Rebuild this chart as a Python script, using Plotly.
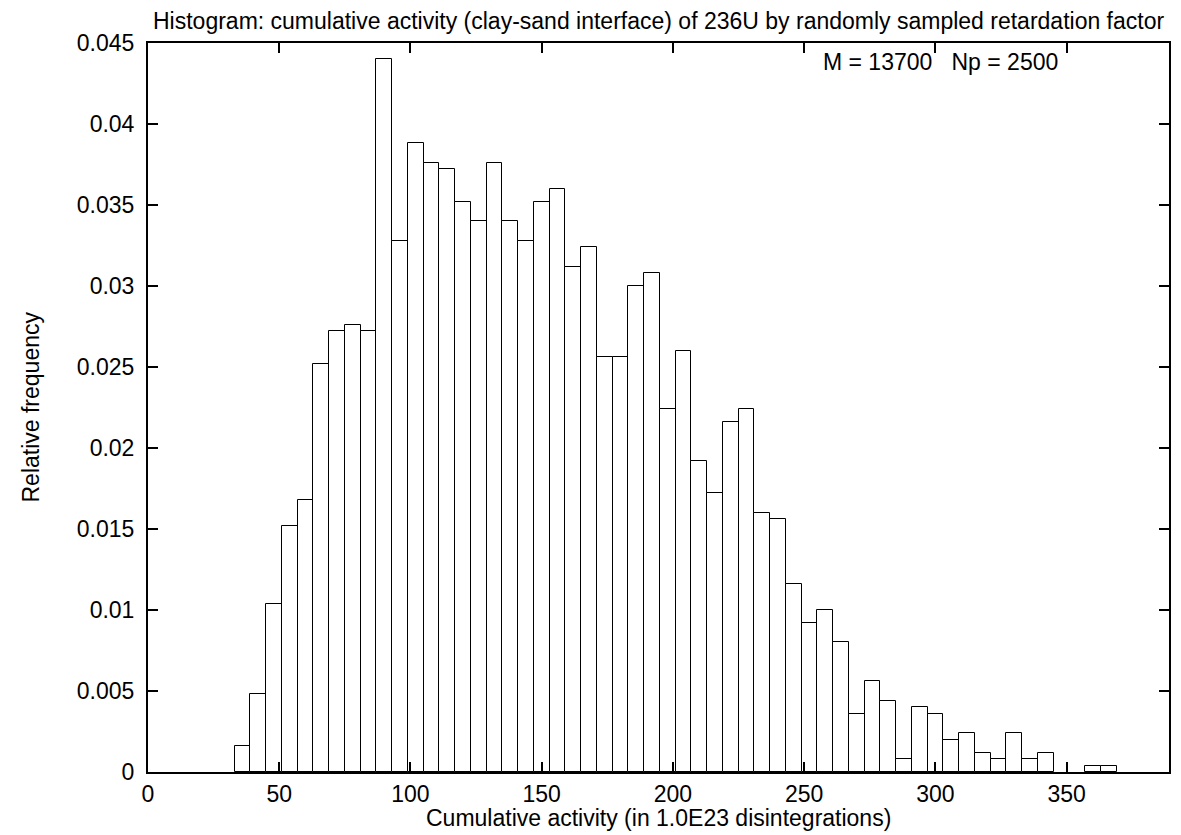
import plotly.graph_objects as go

# Histogram bins: left edges and widths (activity in 1.0E23 disintegrations)
bin_left = [33, 39, 45, 51, 57, 63, 69, 75, 81, 87, 93, 99, 105, 111, 117, 123,
            129, 135, 141, 147, 153, 159, 165, 171, 177, 183, 189, 195, 201, 207,
            213, 219, 225, 231, 237, 243, 249, 255, 261, 267, 273, 279, 285, 291,
            297, 303, 309, 315, 321, 327, 333, 339, 357, 363]
bin_width = 6

# Relative frequencies per bin
rel_freq = [0.0016, 0.0048, 0.0104, 0.0152, 0.0168, 0.0252, 0.0272, 0.0276,
            0.0272, 0.0440, 0.0328, 0.0388, 0.0376, 0.0372, 0.0352, 0.0340,
            0.0376, 0.0340, 0.0328, 0.0352, 0.0360, 0.0312, 0.0324, 0.0256,
            0.0256, 0.0300, 0.0308, 0.0224, 0.0260, 0.0192, 0.0172, 0.0216,
            0.0224, 0.0160, 0.0156, 0.0116, 0.0092, 0.0100, 0.0080, 0.0036,
            0.0056, 0.0044, 0.0008, 0.0040, 0.0036, 0.0020, 0.0024, 0.0012,
            0.0008, 0.0024, 0.0008, 0.0012, 0.0004, 0.0004]

x_ticks = [0, 50, 100, 150, 200, 250, 300, 350]
y_ticks = [0, 0.005, 0.01, 0.015, 0.02, 0.025, 0.03, 0.035, 0.04, 0.045]
y_tick_text = ["0", "0.005", "0.01", "0.015", "0.02", "0.025", "0.03",
               "0.035", "0.04", "0.045"]

title_text = ("Histogram: cumulative activity (clay-sand interface) of 236U "
              "by randomly sampled retardation factor")
info_text = "M = 13700   Np = 2500"

FONT = "Liberation Sans, Arial, Helvetica, sans-serif"
TXT = 23

centers = [l + bin_width / 2 for l in bin_left]

fig = go.Figure(
    go.Bar(
        x=centers,
        y=rel_freq,
        width=[bin_width] * len(centers),
        marker=dict(color="white", line=dict(color="black", width=1)),
        showlegend=False,
    )
)

fig.update_layout(
    width=1181,
    height=835,
    autosize=False,
    margin=dict(l=148, r=10, t=43, b=63),
    paper_bgcolor="white",
    plot_bgcolor="white",
    font=dict(family=FONT, size=TXT, color="black"),
    bargap=0,
    annotations=[
        dict(text=title_text, xref="paper", yref="paper", x=0.5, y=1.0,
             yshift=22, showarrow=False, xanchor="center", yanchor="middle",
             font=dict(family=FONT, size=TXT, color="black")),
        dict(text=info_text, xref="paper", yref="paper", x=0.8935, y=1.0,
             yshift=-19, showarrow=False, xanchor="right", yanchor="middle",
             font=dict(family=FONT, size=TXT, color="black")),
        dict(text="Cumulative activity (in 1.0E23 disintegrations)",
             xref="paper", yref="paper", x=0.5, y=0, yshift=-46,
             showarrow=False, xanchor="center", yanchor="middle",
             font=dict(family=FONT, size=TXT, color="black")),
        dict(text="Relative frequency", xref="paper", yref="paper",
             x=0, xshift=-118, y=0.5, textangle=-90, showarrow=False,
             xanchor="center", yanchor="middle",
             font=dict(family=FONT, size=TXT, color="black")),
    ],
)

fig.update_xaxes(
    range=[0, 389],
    tickvals=x_ticks,
    ticks="inside",
    ticklen=10,
    tickwidth=1.5,
    tickcolor="black",
    showline=True,
    linecolor="black",
    linewidth=2,
    mirror="ticks",
    showgrid=False,
    zeroline=False,
    tickfont=dict(family=FONT, size=TXT, color="black"),
)

fig.update_yaxes(
    range=[0, 0.045],
    tickvals=y_ticks,
    ticktext=y_tick_text,
    ticks="inside",
    ticklen=10,
    tickwidth=1.5,
    tickcolor="black",
    showline=True,
    linecolor="black",
    linewidth=2,
    mirror="ticks",
    showgrid=False,
    zeroline=False,
    ticklabelstandoff=7,
    tickfont=dict(family=FONT, size=TXT, color="black"),
)

fig.write_html("out.html")
